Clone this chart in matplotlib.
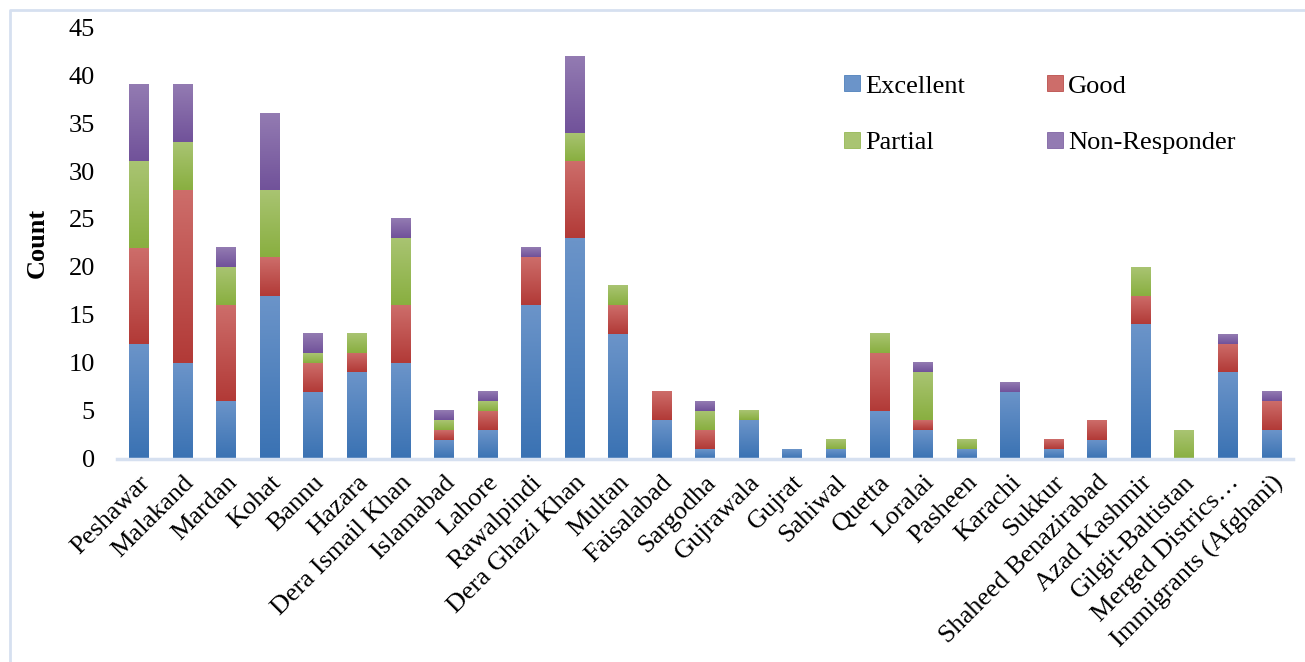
import matplotlib.pyplot as plt
import numpy as np
from matplotlib.colors import LinearSegmentedColormap
from matplotlib.lines import Line2D

plt.rcParams["font.family"] = ["Liberation Serif", "DejaVu Serif"]

regions = [
    "Peshawar", "Malakand", "Mardan", "Kohat", "Bannu", "Hazara",
    "Dera Ismail Khan", "Islamabad", "Lahore", "Rawalpindi", "Dera Ghazi Khan",
    "Multan", "Faisalabad", "Sargodha", "Gujrawala", "Gujrat", "Sahiwal",
    "Quetta", "Loralai", "Pasheen", "Karachi", "Sukkur", "Shaheed Benazirabad",
    "Azad Kashmir", "Gilgit-Baltistan", "Merged Districs\u2026", "Immigrants (Afghani)",
]
excellent = [12, 10, 6, 17, 7, 9, 10, 2, 3, 16, 23, 13, 4, 1, 4, 1, 1, 5, 3, 1, 7, 1, 2, 14, 0, 9, 3]
good = [10, 18, 10, 4, 3, 2, 6, 1, 2, 5, 8, 3, 3, 2, 0, 0, 0, 6, 1, 0, 0, 1, 2, 3, 0, 3, 3]
partial = [9, 5, 4, 7, 1, 2, 7, 1, 1, 0, 3, 2, 0, 2, 1, 0, 1, 2, 5, 1, 0, 0, 0, 3, 3, 0, 0]
non_responder = [8, 6, 2, 8, 2, 0, 2, 1, 1, 1, 8, 0, 0, 1, 0, 0, 0, 0, 1, 0, 1, 0, 0, 0, 0, 1, 1]

# (name, values, top colour, bottom colour) - Excel style vertical gradient
series = [
    ("Excellent", excellent, "#6B94C9", "#3A72B3"),
    ("Good", good, "#CD6D6A", "#B23A37"),
    ("Partial", partial, "#A9C472", "#89AF40"),
    ("Non-Responder", non_responder, "#937BB2", "#71529A"),
]

fig = plt.figure(figsize=(13.05, 6.62), dpi=100)
ax = fig.add_axes([0.0897, 0.307, 0.901, 0.652])

x = np.arange(len(regions))
bottom = np.zeros(len(regions))
ramp = np.linspace(0, 1, 64).reshape(-1, 1)
for name, values, top_color, bottom_color in series:
    values = np.array(values, dtype=float)
    cmap = LinearSegmentedColormap.from_list(name, [top_color, bottom_color])
    bars = ax.bar(x, values, width=0.44, bottom=bottom, color=bottom_color, label=name)
    for patch in bars:
        if patch.get_height() <= 0:
            continue
        x0, y0 = patch.get_x(), patch.get_y()
        ax.imshow(ramp, cmap=cmap, aspect="auto", origin="upper", interpolation="bilinear",
                  extent=(x0, x0 + patch.get_width(), y0, y0 + patch.get_height()), zorder=2)
    bottom += values

ax.set_xlim(-0.5, len(regions) - 0.5)
ax.set_ylim(0, 45)
ax.set_yticks(range(0, 46, 5))
ax.set_xticks(x)
ax.set_xticklabels(regions, rotation=45, ha="right", rotation_mode="anchor", fontsize=19)
ax.tick_params(axis="y", labelsize=19, length=0, pad=16)
ax.tick_params(axis="x", length=0, pad=9)
ax.set_ylabel("Count", fontsize=19, fontweight="bold", labelpad=14)

for side in ("top", "right", "left"):
    ax.spines[side].set_visible(False)
ax.spines["bottom"].set_color("#D6E0F0")
ax.spines["bottom"].set_linewidth(2.5)
ax.spines["bottom"].set_zorder(3)

# legend fills column-first, so order entries to read row by row
order = [0, 2, 1, 3]
handles = [
    Line2D([], [], linestyle="none", marker="s", markersize=11,
           markerfacecolor=series[i][2], markeredgecolor=series[i][3], markeredgewidth=0.5)
    for i in order
]
ax.legend(
    handles, [series[i][0] for i in order],
    loc="upper left", bbox_to_anchor=(0.598, 0.946), ncol=2, frameon=False,
    fontsize=19, handlelength=0.6, handletextpad=0.2,
    columnspacing=3.1, labelspacing=1.25,
)

# light chart-area border (only top and left edges fall inside the image)
fig.add_artist(Line2D([10 / 1305, 10 / 1305, 1.0], [0.0, 1 - 10 / 662, 1 - 10 / 662],
                      transform=fig.transFigure, color="#D6E0F0", linewidth=2))

fig.savefig("out.png", dpi=100)
